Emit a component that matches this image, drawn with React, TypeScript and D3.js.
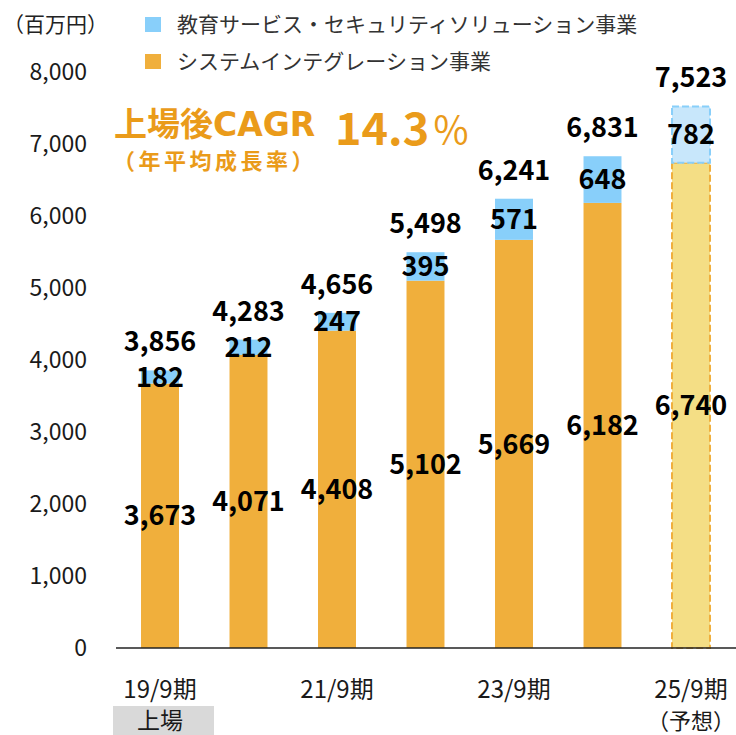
import React from "react";
import * as d3 from "d3";

const categories = ["19/9期", "20/9期", "21/9期", "22/9期", "23/9期", "24/9期", "25/9期"];
const siValues = [3673, 4071, 4408, 5102, 5669, 6182, 6740];
const eduValues = [182, 212, 247, 395, 571, 648, 782];
const totals = [3856, 4283, 4656, 5498, 6241, 6831, 7523];
const yTicks = [0, 1000, 2000, 3000, 4000, 5000, 6000, 7000, 8000];
const shownXLabels = ["19/9期", "21/9期", "23/9期", "25/9期"];
const forecastIndex = 6;

const W = 736;
const H = 735;
const FONT = "'Noto Sans CJK JP', 'Noto Sans', sans-serif";
const ORANGE = "#F0AF3C";
const BLUE = "#88CFFA";
const YELLOW_F = "#F4DE85";
const BLUE_F = "#C8E7FB";
const CAGR = "#EA9B1A";

export default function App() {
  const y = d3.scaleLinear().domain([0, 8000]).range([648, 72]);
  const x = d3
    .scaleBand<string>()
    .domain(categories)
    .range([115.75, 735.25])
    .paddingInner(0.571)
    .paddingOuter(0.2855);
  const bw = x.bandwidth();
  const fmt = d3.format(",");
  const cxOf = (c: string) => (x(c) as number) + bw / 2;

  return (
    <svg width={W} height={H} style={{ position: "absolute", left: 0, top: 0, fontFamily: FONT }}>
      <rect width={W} height={H} fill="#fff" />
      {/* unit */}
      <text x={3} y={32} fontSize={21} fill="#222">（百万円）</text>
      {/* legend */}
      <rect x={145} y={17} width={16} height={15} fill={BLUE} />
      <text x={177} y={32} fontSize={21} fill="#333">教育サービス・セキュリティソリューション事業</text>
      <rect x={145} y={54} width={16} height={15} fill={ORANGE} />
      <text x={177} y={69} fontSize={21} fill="#333">システムインテグレーション事業</text>

      {/* y ticks */}
      {yTicks.map((t) => (
        <text key={t} x={87} y={y(t)} dy="0.36em" textAnchor="end" fontSize={23} fill="#1a1a1a">
          {fmt(t)}
        </text>
      ))}

      {/* bars */}
      {categories.map((c, i) => {
        const x0 = x(c) as number;
        const isF = i === forecastIndex;
        const ySi = y(siValues[i]);
        const yTop = y(siValues[i] + eduValues[i]);
        return (
          <g key={c}>
            <rect
              x={x0}
              y={ySi}
              width={bw}
              height={y(0) - ySi}
              fill={isF ? YELLOW_F : ORANGE}
              stroke={isF ? ORANGE : "none"}
              strokeWidth={isF ? 2 : 0}
              strokeDasharray={isF ? "7,3" : undefined}
            />
            <rect
              x={x0}
              y={yTop}
              width={bw}
              height={ySi - yTop}
              fill={isF ? BLUE_F : BLUE}
              stroke={isF ? BLUE : "none"}
              strokeWidth={isF ? 2 : 0}
              strokeDasharray={isF ? "7,3" : undefined}
            />
          </g>
        );
      })}

      {/* axis */}
      <line x1={116} x2={736} y1={648} y2={648} stroke="#222" strokeWidth={1.5} />

      {/* value labels */}
      {categories.map((c, i) => {
        const cx = cxOf(c);
        const siMid = y(siValues[i] / 2);
        const eduMid = y(siValues[i] + eduValues[i] / 2);
        const tTop = y(totals[i]);
        return (
          <g key={c} fontWeight={700} fill="#000" textAnchor="middle" fontSize={27}>
            <text x={cx} y={siMid} dy="0.36em">{fmt(siValues[i])}</text>
            <text x={cx} y={eduMid} dy="0.36em">{fmt(eduValues[i])}</text>
            <text x={cx} y={tTop - 19}>{fmt(totals[i])}</text>
          </g>
        );
      })}

      {/* CAGR annotation */}
      <text
        x={114}
        y={136}
        fontSize={33}
        fontWeight={700}
        fill={CAGR}
        style={{ fontFamily: "'DejaVu Sans', 'Noto Sans CJK JP', sans-serif" }}
      >
        上場後CAGR
      </text>
      <text x={335} y={145} fontSize={45} fontWeight={700} fill={CAGR}>14.3</text>
      <text x={432} y={144} fontSize={38} fontWeight={400} fill={CAGR}>％</text>
      <text x={113} y={169} fontSize={22} fontWeight={700} letterSpacing={3.5} fill={CAGR}>（年平均成長率）</text>

      {/* x labels */}
      {shownXLabels.map((c) => (
        <text key={c} x={cxOf(c)} y={698} textAnchor="middle" fontSize={24} fill="#1a1a1a">
          {c}
        </text>
      ))}
      <rect x={113} y={706} width={101} height={29} fill="#D9D9D9" />
      <text x={cxOf(categories[0])} y={729} textAnchor="middle" fontSize={23} fill="#1a1a1a">
        上場
      </text>
      <text x={cxOf(categories[forecastIndex])} y={729} textAnchor="middle" fontSize={22} fill="#1a1a1a">
        （予想）
      </text>
    </svg>
  );
}
